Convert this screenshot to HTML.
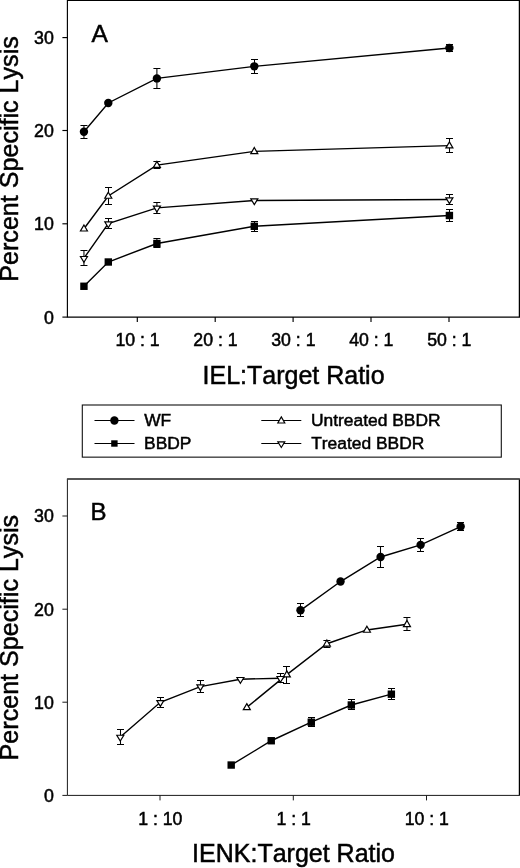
<!DOCTYPE html>
<html lang="en"><head><meta charset="utf-8"><title>Percent Specific Lysis</title>
<style>html,body{margin:0;padding:0;background:#fff}svg{display:block}text{font-family:"Liberation Sans", Arial, Helvetica, sans-serif;fill:#000;stroke:#000;stroke-width:0.5px;font-kerning:none;font-feature-settings:"kern" 0}</style></head><body>
<svg width="520" height="868" viewBox="0 0 520 868">
<rect x="0" y="0" width="520" height="868" fill="#fff"/>
<g fill="none" stroke="#000" stroke-width="1.15">
<path d="M67.40 0.40 H519.50 V317.10 H67.40 Z"/>
<path d="M519.45 0.40 V317.10" stroke="#000" stroke-width="1.25"/>
<path d="M62.40 317.10 H67.40"/>
<path d="M62.40 223.80 H67.40"/>
<path d="M62.40 130.50 H67.40"/>
<path d="M62.40 37.60 H67.40"/>
<path d="M137.30 317.10 V322.10"/>
<path d="M215.20 317.10 V322.10"/>
<path d="M293.10 317.10 V322.10"/>
<path d="M371.00 317.10 V322.10"/>
<path d="M449.00 317.10 V322.10"/>
</g>
<text x="53.8" y="323.50" font-size="17.8" text-anchor="end">0</text>
<text x="53.8" y="230.20" font-size="17.8" text-anchor="end">10</text>
<text x="53.8" y="136.90" font-size="17.8" text-anchor="end">20</text>
<text x="53.8" y="44.00" font-size="17.8" text-anchor="end">30</text>
<text x="137.60" y="346.20" font-size="17.7" text-anchor="middle">10 : 1</text>
<text x="215.50" y="346.20" font-size="17.7" text-anchor="middle">20 : 1</text>
<text x="293.40" y="346.20" font-size="17.7" text-anchor="middle">30 : 1</text>
<text x="371.30" y="346.20" font-size="17.7" text-anchor="middle">40 : 1</text>
<text x="449.30" y="346.20" font-size="17.7" text-anchor="middle">50 : 1</text>
<text x="91.60" y="42.00" font-size="24.6">A</text>
<text x="293.55" y="383.50" font-size="25" text-anchor="middle">IEL:Target Ratio</text>
<text transform="translate(18.3 158.95) rotate(-90)" font-size="25.1" text-anchor="middle">Percent Specific Lysis</text>
<polyline points="83.95,131.71 108.30,102.97 156.90,78.42 254.30,66.33 449.40,48.01" fill="none" stroke="#000" stroke-width="1.40"/>
<polyline points="83.95,228.71 108.30,195.97 156.90,165.10 254.30,151.33 449.40,145.66" fill="none" stroke="#000" stroke-width="1.40"/>
<polyline points="83.95,258.19 108.30,223.59 156.90,207.88 254.30,200.53 449.40,199.51" fill="none" stroke="#000" stroke-width="1.40"/>
<polyline points="83.95,286.27 108.30,262.00 156.90,243.50 254.30,226.29 449.40,215.50" fill="none" stroke="#000" stroke-width="1.40"/>
<path d="M83.95 125.50 V138.50 M80.45 125.50 H87.45 M80.45 138.50 H87.45" fill="none" stroke="#000" stroke-width="1.05"/>
<path d="M156.90 68.50 V88.50 M153.40 68.50 H160.40 M153.40 88.50 H160.40" fill="none" stroke="#000" stroke-width="1.05"/>
<path d="M254.50 59.50 V73.50 M251.00 59.50 H258.00 M251.00 73.50 H258.00" fill="none" stroke="#000" stroke-width="1.05"/>
<path d="M449.50 44.50 V51.50 M446.00 44.50 H453.00 M446.00 51.50 H453.00" fill="none" stroke="#000" stroke-width="1.05"/>
<circle cx="83.95" cy="131.71" r="4.2" fill="#000"/>
<circle cx="108.30" cy="102.97" r="4.2" fill="#000"/>
<circle cx="156.90" cy="78.42" r="4.2" fill="#000"/>
<circle cx="254.30" cy="66.33" r="4.2" fill="#000"/>
<circle cx="449.40" cy="48.01" r="4.2" fill="#000"/>
<path d="M108.50 187.50 V204.50 M105.00 187.50 H112.00 M105.00 204.50 H112.00" fill="none" stroke="#000" stroke-width="1.05"/>
<path d="M156.90 161.50 V168.50 M153.40 161.50 H160.40 M153.40 168.50 H160.40" fill="none" stroke="#000" stroke-width="1.05"/>
<path d="M449.50 138.50 V152.50 M446.00 138.50 H453.00 M446.00 152.50 H453.00" fill="none" stroke="#000" stroke-width="1.05"/>
<path d="M83.95 224.95 L87.45 231.01 L80.45 231.01 Z" fill="#fff" stroke="#000" stroke-width="1.20" stroke-linejoin="miter"/>
<path d="M108.30 192.21 L111.80 198.27 L104.80 198.27 Z" fill="#fff" stroke="#000" stroke-width="1.20" stroke-linejoin="miter"/>
<path d="M156.90 161.34 L160.40 167.40 L153.40 167.40 Z" fill="#fff" stroke="#000" stroke-width="1.20" stroke-linejoin="miter"/>
<path d="M254.30 147.57 L257.80 153.63 L250.80 153.63 Z" fill="#fff" stroke="#000" stroke-width="1.20" stroke-linejoin="miter"/>
<path d="M449.40 141.90 L452.90 147.96 L445.90 147.96 Z" fill="#fff" stroke="#000" stroke-width="1.20" stroke-linejoin="miter"/>
<path d="M83.95 250.50 V265.50 M80.45 250.50 H87.45 M80.45 265.50 H87.45" fill="none" stroke="#000" stroke-width="1.05"/>
<path d="M108.50 218.50 V228.50 M105.00 218.50 H112.00 M105.00 228.50 H112.00" fill="none" stroke="#000" stroke-width="1.05"/>
<path d="M156.90 202.50 V213.50 M153.40 202.50 H160.40 M153.40 213.50 H160.40" fill="none" stroke="#000" stroke-width="1.05"/>
<path d="M449.50 194.50 V204.50 M446.00 194.50 H453.00 M446.00 204.50 H453.00" fill="none" stroke="#000" stroke-width="1.05"/>
<path d="M83.95 262.29 L87.45 256.49 L80.45 256.49 Z" fill="#fff" stroke="#000" stroke-width="1.20" stroke-linejoin="miter"/>
<path d="M108.30 227.69 L111.80 221.89 L104.80 221.89 Z" fill="#fff" stroke="#000" stroke-width="1.20" stroke-linejoin="miter"/>
<path d="M156.90 211.98 L160.40 206.18 L153.40 206.18 Z" fill="#fff" stroke="#000" stroke-width="1.20" stroke-linejoin="miter"/>
<path d="M254.30 204.63 L257.80 198.83 L250.80 198.83 Z" fill="#fff" stroke="#000" stroke-width="1.20" stroke-linejoin="miter"/>
<path d="M449.40 203.61 L452.90 197.81 L445.90 197.81 Z" fill="#fff" stroke="#000" stroke-width="1.20" stroke-linejoin="miter"/>
<path d="M156.90 238.50 V247.50 M153.40 238.50 H160.40 M153.40 247.50 H160.40" fill="none" stroke="#000" stroke-width="1.05"/>
<path d="M254.50 221.50 V231.50 M251.00 221.50 H258.00 M251.00 231.50 H258.00" fill="none" stroke="#000" stroke-width="1.05"/>
<path d="M449.50 209.50 V221.50 M446.00 209.50 H453.00 M446.00 221.50 H453.00" fill="none" stroke="#000" stroke-width="1.05"/>
<rect x="80.25" y="282.57" width="7.40" height="7.40" fill="#000"/>
<rect x="104.60" y="258.30" width="7.40" height="7.40" fill="#000"/>
<rect x="153.20" y="239.80" width="7.40" height="7.40" fill="#000"/>
<rect x="250.60" y="222.59" width="7.40" height="7.40" fill="#000"/>
<rect x="445.70" y="211.80" width="7.40" height="7.40" fill="#000"/>
<rect x="82.3" y="405" width="419" height="52.15" fill="#fff" stroke="#111" stroke-width="1.1"/>
<g stroke="#000" stroke-width="1.2"><path d="M94.5 420.5 H134.5 M94.5 443.5 H134.5 M261.3 420.5 H301.3 M261.3 443.5 H301.3"/></g>
<circle cx="114.4" cy="420.5" r="4.2" fill="#000"/>
<rect x="111.20" y="440.30" width="6.40" height="6.40" fill="#000"/>
<path d="M281.30 416.90 L284.80 422.95 L277.80 422.95 Z" fill="#fff" stroke="#000" stroke-width="1.15" stroke-linejoin="miter"/>
<path d="M281.30 447.50 L284.80 441.80 L277.80 441.80 Z" fill="#fff" stroke="#000" stroke-width="1.15" stroke-linejoin="miter"/>
<text x="144.2" y="425.5" font-size="17.4">WF</text>
<text x="144.1" y="449.0" font-size="17.4">BBDP</text>
<text x="311.0" y="425.5" font-size="17.4">Untreated BBDR</text>
<text x="311.2" y="449.0" font-size="17.4">Treated BBDR</text>
<g fill="none" stroke="#1a1a1a" stroke-width="1.00">
<path d="M67.40 479.00 H519.45 V795.40 H67.40 Z"/>
<path d="M519.45 479.00 V795.40" stroke="#000" stroke-width="1.25"/>
<path d="M66.90 479.05 H520" stroke="#444" stroke-width="1.6"/>
<path d="M62.40 795.40 H67.40"/>
<path d="M62.40 702.20 H67.40"/>
<path d="M62.40 609.20 H67.40"/>
<path d="M62.40 516.00 H67.40"/>
<path d="M160.00 795.40 V800.40"/>
<path d="M293.30 795.40 V800.40"/>
<path d="M426.50 795.40 V800.40"/>
</g>
<text x="53.8" y="801.80" font-size="17.8" text-anchor="end">0</text>
<text x="53.8" y="708.60" font-size="17.8" text-anchor="end">10</text>
<text x="53.8" y="615.60" font-size="17.8" text-anchor="end">20</text>
<text x="53.8" y="522.40" font-size="17.8" text-anchor="end">30</text>
<text x="160.30" y="824.60" font-size="17.7" text-anchor="middle">1 : 10</text>
<text x="293.60" y="824.60" font-size="17.7" text-anchor="middle">1 : 1</text>
<text x="426.80" y="824.60" font-size="17.7" text-anchor="middle">10 : 1</text>
<text x="90.50" y="520.00" font-size="24.0">B</text>
<text x="293.55" y="862.10" font-size="25" text-anchor="middle">IENK:Target Ratio</text>
<text transform="translate(18.3 637.65) rotate(-90)" font-size="25.1" text-anchor="middle">Percent Specific Lysis</text>
<polyline points="300.50,610.31 340.54,581.54 380.58,556.96 420.62,544.86 460.66,526.52" fill="none" stroke="#000" stroke-width="1.40"/>
<polyline points="246.80,707.41 286.84,674.64 326.88,643.73 366.92,629.95 406.96,624.28" fill="none" stroke="#000" stroke-width="1.40"/>
<polyline points="120.30,736.93 160.34,702.29 200.38,686.56 240.42,679.20 280.46,678.18" fill="none" stroke="#000" stroke-width="1.40"/>
<polyline points="231.20,765.04 271.24,740.74 311.28,722.22 351.32,704.99 391.36,694.19" fill="none" stroke="#000" stroke-width="1.40"/>
<path d="M300.50 603.50 V616.50 M297.00 603.50 H304.00 M297.00 616.50 H304.00" fill="none" stroke="#000" stroke-width="1.05"/>
<path d="M380.50 546.50 V567.50 M377.00 546.50 H384.00 M377.00 567.50 H384.00" fill="none" stroke="#000" stroke-width="1.05"/>
<path d="M420.50 538.50 V551.50 M417.00 538.50 H424.00 M417.00 551.50 H424.00" fill="none" stroke="#000" stroke-width="1.05"/>
<path d="M460.50 522.50 V530.50 M457.00 522.50 H464.00 M457.00 530.50 H464.00" fill="none" stroke="#000" stroke-width="1.05"/>
<circle cx="300.50" cy="610.31" r="4.2" fill="#000"/>
<circle cx="340.54" cy="581.54" r="4.2" fill="#000"/>
<circle cx="380.58" cy="556.96" r="4.2" fill="#000"/>
<circle cx="420.62" cy="544.86" r="4.2" fill="#000"/>
<circle cx="460.66" cy="526.52" r="4.2" fill="#000"/>
<path d="M286.50 666.50 V683.50 M283.00 666.50 H290.00 M283.00 683.50 H290.00" fill="none" stroke="#000" stroke-width="1.05"/>
<path d="M326.88 640.50 V647.50 M323.38 640.50 H330.38 M323.38 647.50 H330.38" fill="none" stroke="#000" stroke-width="1.05"/>
<path d="M406.96 617.50 V630.50 M403.46 617.50 H410.46 M403.46 630.50 H410.46" fill="none" stroke="#000" stroke-width="1.05"/>
<path d="M246.80 703.65 L250.30 709.71 L243.30 709.71 Z" fill="#fff" stroke="#000" stroke-width="1.20" stroke-linejoin="miter"/>
<path d="M286.84 670.88 L290.34 676.94 L283.34 676.94 Z" fill="#fff" stroke="#000" stroke-width="1.20" stroke-linejoin="miter"/>
<path d="M326.88 639.97 L330.38 646.03 L323.38 646.03 Z" fill="#fff" stroke="#000" stroke-width="1.20" stroke-linejoin="miter"/>
<path d="M366.92 626.19 L370.42 632.25 L363.42 632.25 Z" fill="#fff" stroke="#000" stroke-width="1.20" stroke-linejoin="miter"/>
<path d="M406.96 620.52 L410.46 626.58 L403.46 626.58 Z" fill="#fff" stroke="#000" stroke-width="1.20" stroke-linejoin="miter"/>
<path d="M120.50 729.50 V744.50 M117.00 729.50 H124.00 M117.00 744.50 H124.00" fill="none" stroke="#000" stroke-width="1.05"/>
<path d="M160.50 697.50 V707.50 M157.00 697.50 H164.00 M157.00 707.50 H164.00" fill="none" stroke="#000" stroke-width="1.05"/>
<path d="M200.50 680.50 V692.50 M197.00 680.50 H204.00 M197.00 692.50 H204.00" fill="none" stroke="#000" stroke-width="1.05"/>
<path d="M280.50 673.50 V682.50 M277.00 673.50 H284.00 M277.00 682.50 H284.00" fill="none" stroke="#000" stroke-width="1.05"/>
<path d="M120.30 741.03 L123.80 735.23 L116.80 735.23 Z" fill="#fff" stroke="#000" stroke-width="1.20" stroke-linejoin="miter"/>
<path d="M160.34 706.39 L163.84 700.59 L156.84 700.59 Z" fill="#fff" stroke="#000" stroke-width="1.20" stroke-linejoin="miter"/>
<path d="M200.38 690.66 L203.88 684.86 L196.88 684.86 Z" fill="#fff" stroke="#000" stroke-width="1.20" stroke-linejoin="miter"/>
<path d="M240.42 683.30 L243.92 677.50 L236.92 677.50 Z" fill="#fff" stroke="#000" stroke-width="1.20" stroke-linejoin="miter"/>
<path d="M280.46 682.28 L283.96 676.48 L276.96 676.48 Z" fill="#fff" stroke="#000" stroke-width="1.20" stroke-linejoin="miter"/>
<path d="M311.50 717.50 V726.50 M308.00 717.50 H315.00 M308.00 726.50 H315.00" fill="none" stroke="#000" stroke-width="1.05"/>
<path d="M351.50 699.50 V709.50 M348.00 699.50 H355.00 M348.00 709.50 H355.00" fill="none" stroke="#000" stroke-width="1.05"/>
<path d="M391.50 688.50 V699.50 M388.00 688.50 H395.00 M388.00 699.50 H395.00" fill="none" stroke="#000" stroke-width="1.05"/>
<rect x="227.50" y="761.34" width="7.40" height="7.40" fill="#000"/>
<rect x="267.54" y="737.04" width="7.40" height="7.40" fill="#000"/>
<rect x="307.58" y="718.52" width="7.40" height="7.40" fill="#000"/>
<rect x="347.62" y="701.29" width="7.40" height="7.40" fill="#000"/>
<rect x="387.66" y="690.49" width="7.40" height="7.40" fill="#000"/>
</svg></body></html>
